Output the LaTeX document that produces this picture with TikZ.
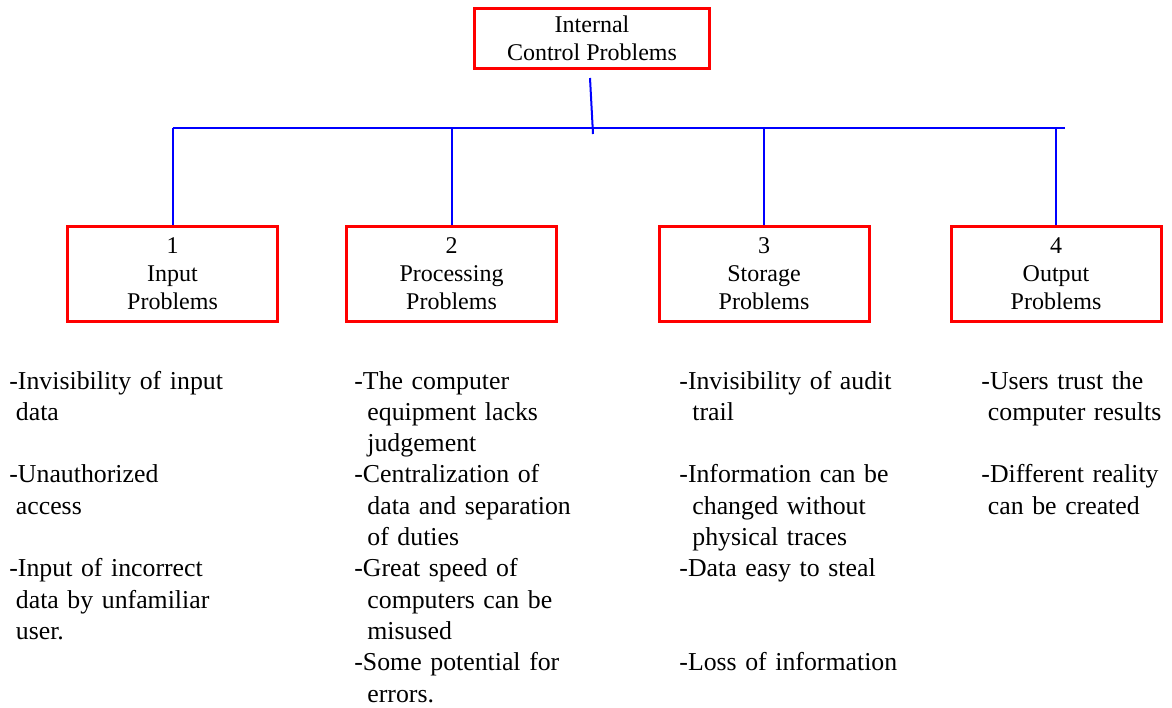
\documentclass[tikz,border=0pt]{standalone}
\usepackage{fontspec}
\setmainfont{Liberation Serif}
\usepackage{tikz}
\newcommand{\lpad}{\hspace*{3.25pt}}

\begin{document}
\begin{tikzpicture}[
    x=0.5pt, y=-0.5pt,
    probbox/.style={draw=red, line width=1.5pt, minimum width=105pt, minimum height=47.5pt,
        inner sep=0pt, align=center, font=\fontsize{12}{14}\selectfont},
    topbox/.style={probbox, minimum width=117.5pt, minimum height=30pt},
    bus/.style={blue, line width=1pt},
    item/.style={anchor=base west, inner sep=0pt, text width=140pt, align=left,
        font=\fontsize{12.9}{15.65}\selectfont}
]
\useasboundingbox (0,0) rectangle (1172,707);

% top box
\node[topbox] (top) at (592,38.5) {Internal\\Control Problems};

% the four problem boxes
\node[probbox] (b1) at (172.5,274) {1\\Input\\Problems};
\node[probbox] (b2) at (451.5,274) {2\\Processing\\Problems};
\node[probbox] (b3) at (764,274) {3\\Storage\\Problems};
\node[probbox] (b4) at (1056,274) {4\\Output\\Problems};

% connectors
\coordinate (t0) at (590,78);
\coordinate (t1) at (593,134);
\coordinate (bl) at (172.5,127.5);
\coordinate (br) at (1065,127.5);
\draw[bus] (t0) -- (t1);
\draw[bus] (bl) -- (br);
\foreach \b in {b1,b2,b3,b4}
    \draw[bus] (\b.north) -- (\b.north |- bl);

% input problems
\node[item] (in1) at (9,389) {-Invisibility of input\\\lpad data};
\node[item] (in2) at (9,482.9) {-Unauthorized\\\lpad access};
\node[item] (in3) at (9,576.8) {-Input of incorrect\\\lpad data by unfamiliar\\\lpad user.};

% processing problems
\node[item] (pr1) at (354,389) {-The computer\\\lpad\lpad equipment lacks\\\lpad\lpad judgement};
\node[item] (pr2) at (354,482.9) {-Centralization of\\\lpad\lpad data and separation\\\lpad\lpad of duties};
\node[item] (pr3) at (354,576.8) {-Great speed of\\\lpad\lpad computers can be\\\lpad\lpad misused};
\node[item] (pr4) at (354,670.7) {-Some potential for\\\lpad\lpad errors.};

% storage problems
\node[item] (st1) at (679,389) {-Invisibility of audit\\\lpad\lpad trail};
\node[item] (st2) at (679,482.9) {-Information can be\\\lpad\lpad changed without\\\lpad\lpad physical traces};
\node[item] (st3) at (679,576.8) {-Data easy to steal};
\node[item] (st4) at (679,670.7) {-Loss of information};

% output problems
\node[item] (ou1) at (981,389) {-Users trust the\\\lpad computer results};
\node[item] (ou2) at (981,482.9) {-Different reality\\\lpad can be created};

\end{tikzpicture}
\end{document}
